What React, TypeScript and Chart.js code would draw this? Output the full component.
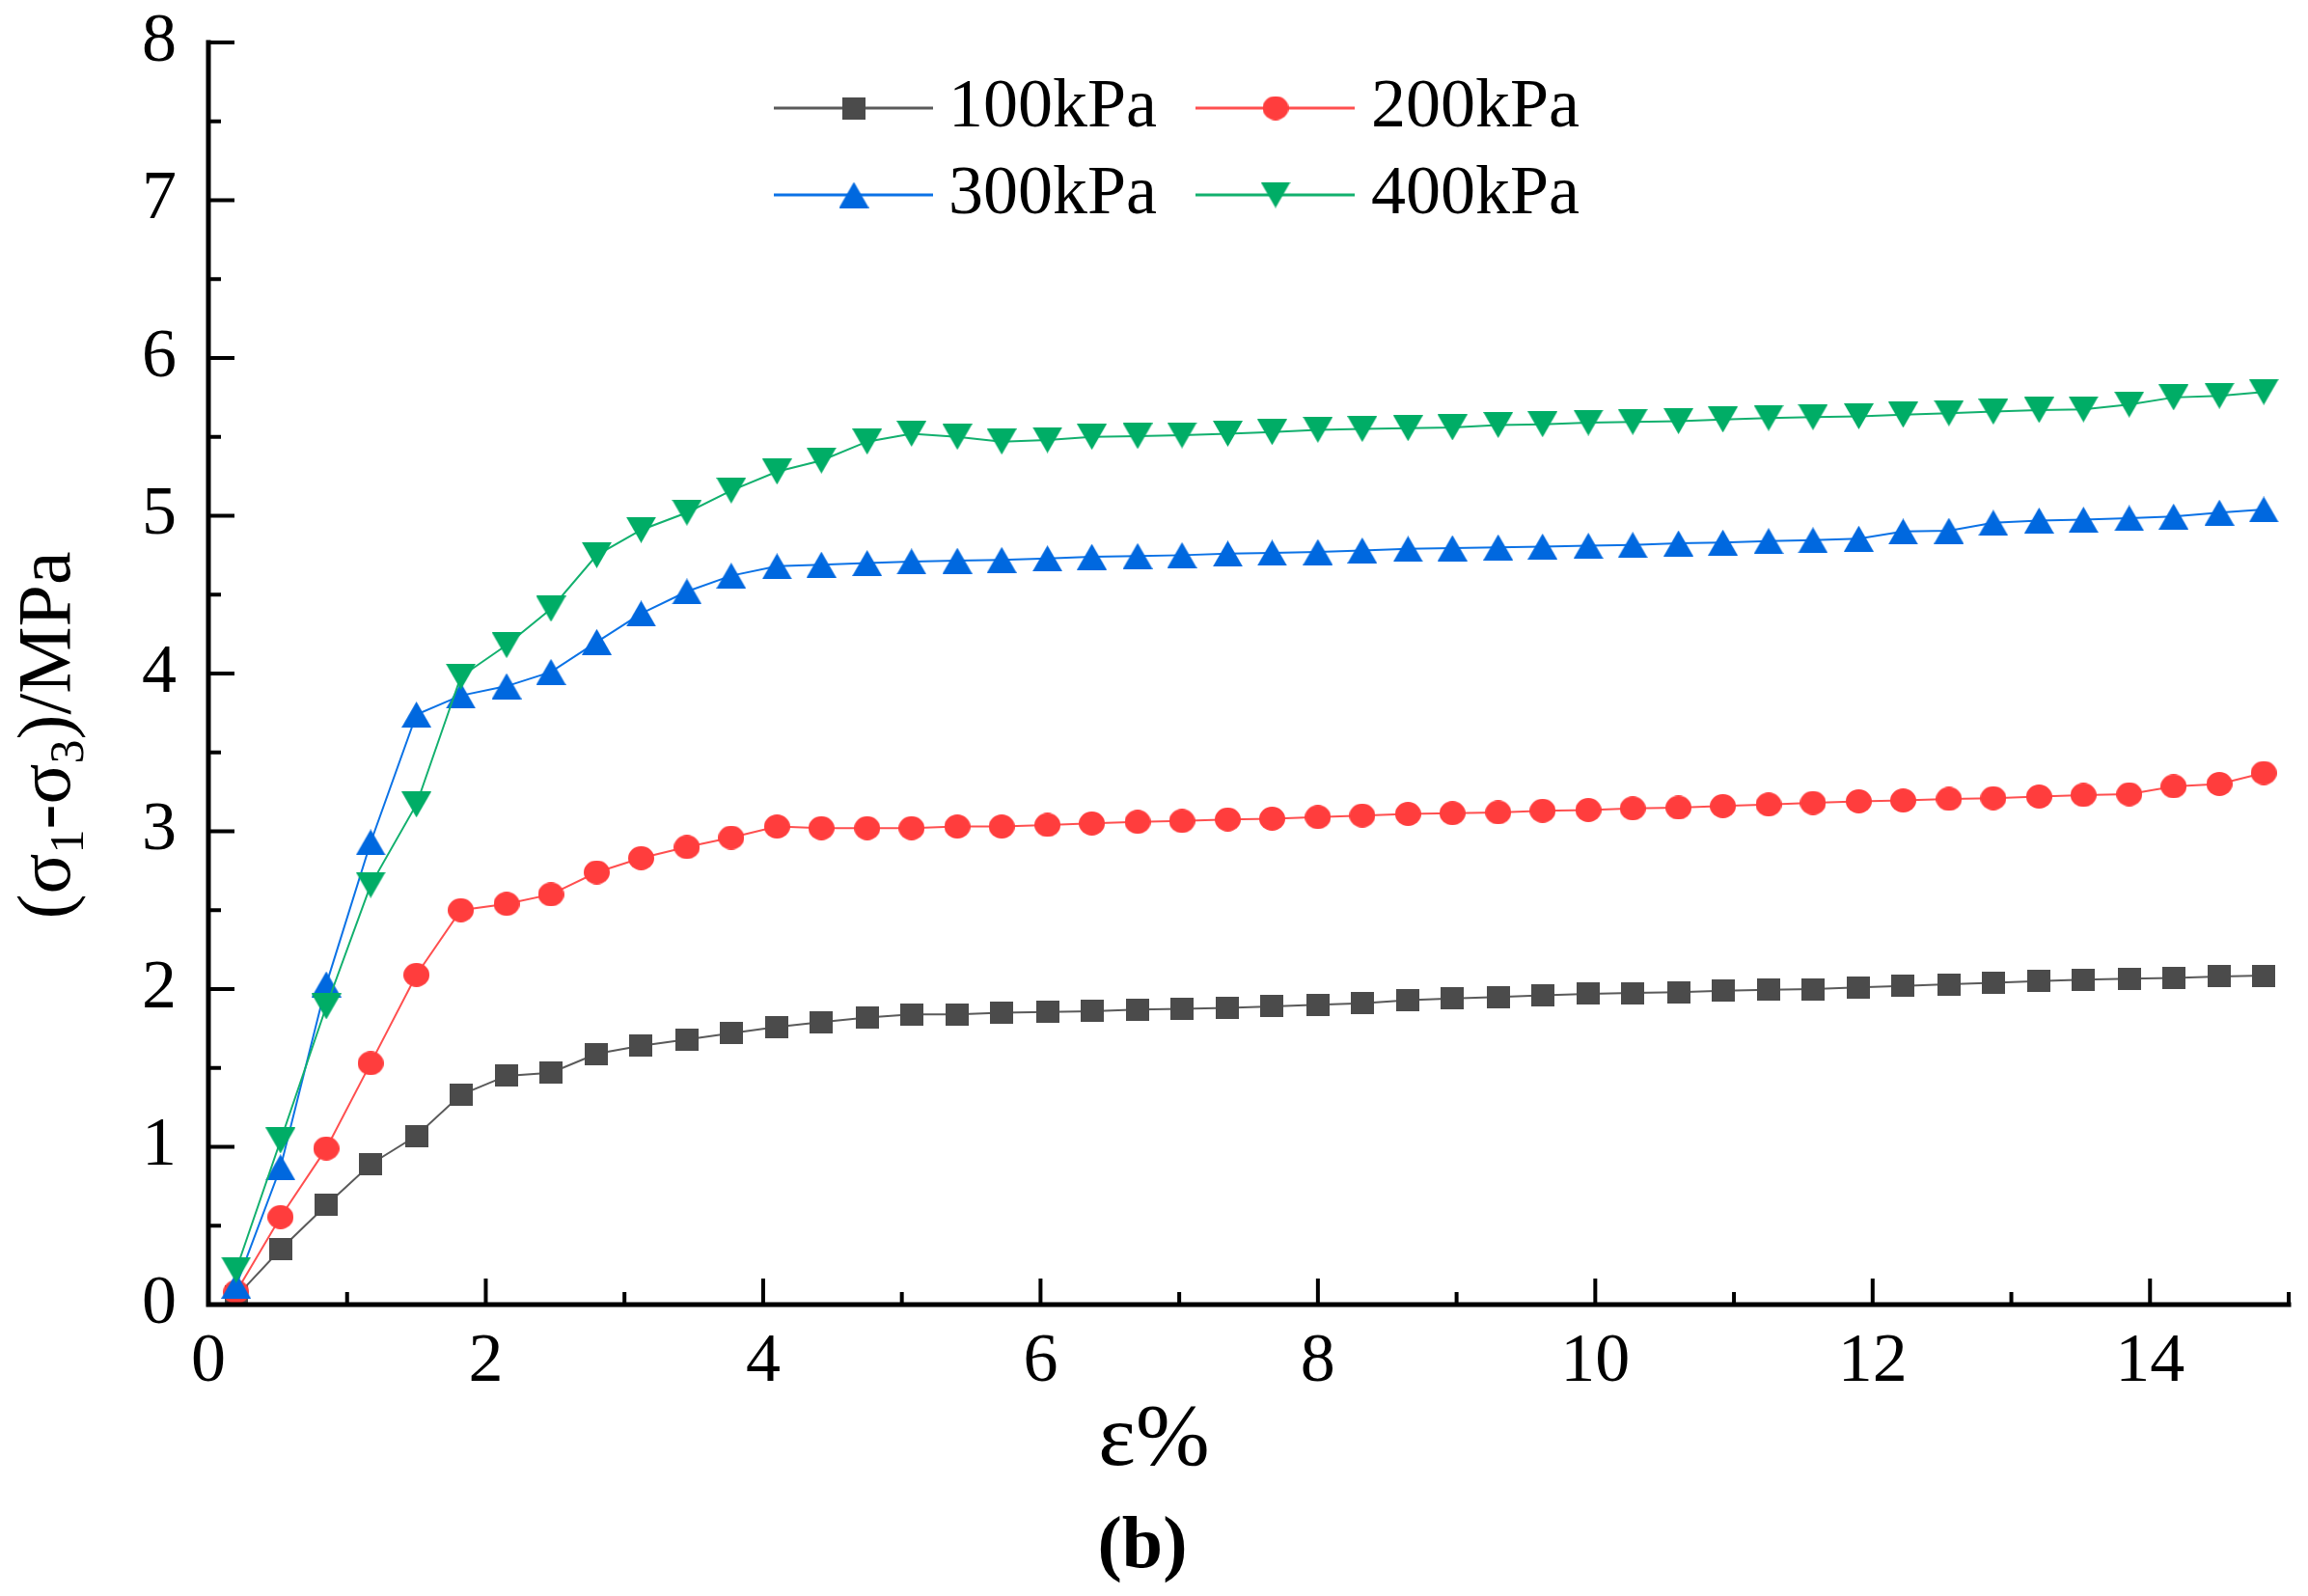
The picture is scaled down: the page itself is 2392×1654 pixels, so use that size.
import React, { useEffect, useRef } from "react";
import { Chart, registerables } from "chart.js";

Chart.register(...registerables);

// ---------- data ----------
const strain = [
  0.2, 0.52, 0.85, 1.17, 1.5, 1.82, 2.15, 2.47, 2.8, 3.12, 3.45, 3.77, 4.1, 4.42, 4.75, 5.07,
  5.4, 5.72, 6.05, 6.37, 6.7, 7.02, 7.35, 7.67, 8.0, 8.32, 8.65, 8.97, 9.3, 9.62, 9.95, 10.27,
  10.6, 10.92, 11.25, 11.57, 11.9, 12.22, 12.55, 12.87, 13.2, 13.52, 13.85, 14.17, 14.5, 14.82,
];

const stress100 = [
  0.05, 0.35, 0.63, 0.89, 1.07, 1.33, 1.45, 1.47, 1.59, 1.64, 1.68, 1.72, 1.76, 1.79, 1.82,
  1.84, 1.84, 1.85, 1.855, 1.86, 1.87, 1.875, 1.88, 1.89,
  1.9, 1.91, 1.93, 1.94, 1.95, 1.96, 1.97, 1.975, 1.98, 1.99, 1.995, 2.0, 2.01, 2.02, 2.03, 2.04,
  2.05, 2.06, 2.065, 2.07, 2.08, 2.085,
];

const stress200 = [
  0.08, 0.555, 0.99, 1.53, 2.09, 2.5, 2.54, 2.6, 2.74, 2.83, 2.9, 2.96, 3.03, 3.02, 3.02,
  3.02, 3.03, 3.03, 3.04, 3.05, 3.06, 3.065, 3.075, 3.08,
  3.09, 3.1, 3.11, 3.115, 3.12, 3.13, 3.135, 3.145, 3.15, 3.16, 3.17, 3.18, 3.19, 3.195, 3.205,
  3.21, 3.22, 3.23, 3.235, 3.285, 3.3, 3.37,
];

const stress300 = [
  0.12, 0.87, 2.03, 2.93, 3.74, 3.86, 3.92, 4.01, 4.2, 4.38, 4.52, 4.62, 4.68, 4.69, 4.7,
  4.71, 4.715, 4.72, 4.73, 4.74, 4.745, 4.75, 4.76, 4.765,
  4.77, 4.78, 4.79, 4.795, 4.8, 4.805, 4.81, 4.815, 4.825, 4.83, 4.84, 4.845, 4.855, 4.9, 4.905,
  4.955, 4.97, 4.975, 4.985, 4.995, 5.02, 5.04,
];

const stress400 = [
  0.22, 1.04, 1.89, 2.66, 3.17, 3.98, 4.18, 4.41, 4.75, 4.91, 5.02, 5.16, 5.28, 5.35, 5.47,
  5.52, 5.5, 5.47, 5.48, 5.5, 5.505, 5.51, 5.52, 5.53,
  5.545, 5.55, 5.555, 5.56, 5.575, 5.58, 5.59, 5.595, 5.6, 5.61, 5.62, 5.625, 5.63, 5.64, 5.65,
  5.66, 5.67, 5.675, 5.705, 5.75, 5.76, 5.785,
];

const seriesLabels = ["100kPa", "200kPa", "300kPa", "400kPa"];

const xTickValues = [0, 2, 4, 6, 8, 10, 12, 14];
const xMinorValues = [1, 3, 5, 7, 9, 11, 13, 15];
const yTickValues = [0, 1, 2, 3, 4, 5, 6, 7, 8];
const yMinorValues = [0.5, 1.5, 2.5, 3.5, 4.5, 5.5, 6.5, 7.5];

const xTitle = "ε%";
const yTitleParts: { t: string; sub: boolean }[] = [
  { t: "(σ", sub: false },
  { t: "1", sub: true },
  { t: "-σ", sub: false },
  { t: "3", sub: true },
  { t: ")/MPa", sub: false },
];
const panelLabel = "(b)";

// ---------- styling ----------
const SERIF = "'Liberation Serif', 'Times New Roman', serif";
const markerColors = ["#4b4b4b", "#ff3d3d", "#0068df", "#00ad66"];
const lineColors = ["#5a5a5a", "#ff4f4f", "#0b72e6", "#12b06e"];
const markerShapes = ["square", "circle", "up", "down"];
const markerSizes = [
  [24, 23],
  [27, 25],
  [31, 27],
  [31, 27],
];

function makeMarker(shape: string, color: string, w: number, h: number) {
  const c = document.createElement("canvas");
  c.width = w;
  c.height = h;
  const g = c.getContext("2d")!;
  g.fillStyle = color;
  g.beginPath();
  if (shape === "square") g.rect(0, 0, w, h);
  else if (shape === "circle") g.ellipse(w / 2, h / 2, w / 2, h / 2, 0, 0, Math.PI * 2);
  else if (shape === "up") {
    g.moveTo(w / 2, 0);
    g.lineTo(w, h);
    g.lineTo(0, h);
    g.closePath();
  } else {
    g.moveTo(0, 0);
    g.lineTo(w, 0);
    g.lineTo(w / 2, h);
    g.closePath();
  }
  g.fill();
  return c;
}

const decorPlugin = {
  id: "decor",
  afterDatasetsDraw(chart: any) {
    const { ctx, chartArea: a } = chart;
    const xs = chart.scales.x;
    const ys = chart.scales.y;
    ctx.save();
    ctx.strokeStyle = "#000";
    ctx.lineCap = "butt";
    ctx.lineWidth = 4;
    const seg = (x1: number, y1: number, x2: number, y2: number) => {
      ctx.beginPath();
      ctx.moveTo(x1, y1);
      ctx.lineTo(x2, y2);
      ctx.stroke();
    };
    for (const v of xTickValues) {
      const px = xs.getPixelForValue(v);
      seg(px, a.bottom, px, a.bottom - 27);
    }
    for (const v of xMinorValues) {
      const px = xs.getPixelForValue(v);
      seg(px, a.bottom, px, a.bottom - 13);
    }
    for (const v of yTickValues) {
      const py = ys.getPixelForValue(v);
      seg(a.left, py, a.left + 27, py);
    }
    for (const v of yMinorValues) {
      const py = ys.getPixelForValue(v);
      seg(a.left, py, a.left + 13, py);
    }
    ctx.lineWidth = 5;
    ctx.lineCap = "square";
    ctx.beginPath();
    ctx.moveTo(a.left, a.top);
    ctx.lineTo(a.left, a.bottom);
    ctx.lineTo(a.right, a.bottom);
    ctx.stroke();

    // legend (two columns x two rows)
    const colX = [802, 1239];
    const rowY = [112, 202];
    chart.data.datasets.forEach((ds: any, i: number) => {
      const cx = colX[i % 2];
      const cy = rowY[Math.floor(i / 2)];
      ctx.strokeStyle = ds.borderColor;
      ctx.lineWidth = 3;
      ctx.lineCap = "butt";
      seg(cx, cy, cx + 165, cy);
      const img = ds.pointStyle as HTMLCanvasElement;
      ctx.drawImage(img, cx + 83 - img.width / 2, cy - img.height / 2);
      ctx.fillStyle = "#000";
      ctx.font = `72px ${SERIF}`;
      ctx.textAlign = "left";
      ctx.textBaseline = "middle";
      ctx.fillText(ds.label, cx + (i % 2 === 0 ? 181 : 182), cy);
    });

    // x title
    ctx.fillStyle = "#000";
    ctx.font = `92px ${SERIF}`;
    ctx.textAlign = "center";
    ctx.textBaseline = "alphabetic";
    ctx.fillText(xTitle, 1196, 1518);

    // panel label
    ctx.font = `bold 76px ${SERIF}`;
    ctx.fillText(panelLabel, 1184, 1624);

    // y title with subscripts
    const mainF = `78px ${SERIF}`;
    const subF = `50px ${SERIF}`;
    let total = 0;
    for (const p of yTitleParts) {
      ctx.font = p.sub ? subF : mainF;
      total += ctx.measureText(p.t).width;
    }
    ctx.translate(72, 762);
    ctx.rotate(-Math.PI / 2);
    ctx.textAlign = "left";
    let xx = -total / 2;
    for (const p of yTitleParts) {
      ctx.font = p.sub ? subF : mainF;
      ctx.fillText(p.t, xx, p.sub ? 14 : 0);
      xx += ctx.measureText(p.t).width;
    }
    ctx.restore();
  },
};

export default function App() {
  const ref = useRef<HTMLCanvasElement | null>(null);

  useEffect(() => {
    document.body.style.margin = "0";
    const canvas = ref.current!;
    const series = [stress100, stress200, stress300, stress400];
    const datasets = series.map((vals, i) => ({
      label: seriesLabels[i],
      data: strain.map((x, k) => ({ x, y: vals[k] })),
      borderColor: lineColors[i],
      backgroundColor: markerColors[i],
      borderWidth: 2,
      pointStyle: makeMarker(markerShapes[i], markerColors[i], markerSizes[i][0], markerSizes[i][1]),
      pointRadius: 12,
      pointHoverRadius: 12,
      tension: 0,
      order: 3 - i,
    }));

    const chart = new Chart(canvas, {
      type: "line",
      data: { datasets } as any,
      options: {
        animation: false,
        responsive: false,
        devicePixelRatio: 1,
        events: [],
        layout: { padding: { left: 0, top: 44, right: 20, bottom: 0 } },
        plugins: {
          legend: { display: false },
          title: { display: false },
          tooltip: { enabled: false },
        },
        scales: {
          x: {
            type: "linear",
            min: 0,
            max: 15,
            grid: { display: false, drawTicks: false },
            border: { display: false },
            afterBuildTicks: (s: any) => {
              s.ticks = xTickValues.map((v) => ({ value: v }));
            },
            afterFit: (s: any) => {
              s.height = 302;
              s.paddingLeft = 0;
              s.paddingRight = 0;
              s.paddingTop = 0;
              s.paddingBottom = 0;
            },
            ticks: {
              color: "#000",
              padding: 17,
              maxRotation: 0,
              autoSkip: false,
              font: { family: SERIF, size: 72 },
            },
          },
          y: {
            type: "linear",
            min: 0,
            max: 8,
            grid: { display: false, drawTicks: false },
            border: { display: false },
            afterBuildTicks: (s: any) => {
              s.ticks = yTickValues.map((v) => ({ value: v }));
            },
            afterFit: (s: any) => {
              s.width = 216;
              s.paddingLeft = 0;
              s.paddingRight = 0;
              s.paddingTop = 0;
              s.paddingBottom = 0;
            },
            ticks: {
              color: "#000",
              padding: 33,
              autoSkip: false,
              font: { family: SERIF, size: 72 },
            },
          },
        },
      } as any,
      plugins: [decorPlugin],
    });
    return () => chart.destroy();
  }, []);

  return (
    <div style={{ position: "fixed", left: 0, top: 0, width: 2392, height: 1654, background: "#fff" }}>
      <canvas ref={ref} width={2392} height={1654} style={{ width: 2392, height: 1654, display: "block" }} />
    </div>
  );
}
